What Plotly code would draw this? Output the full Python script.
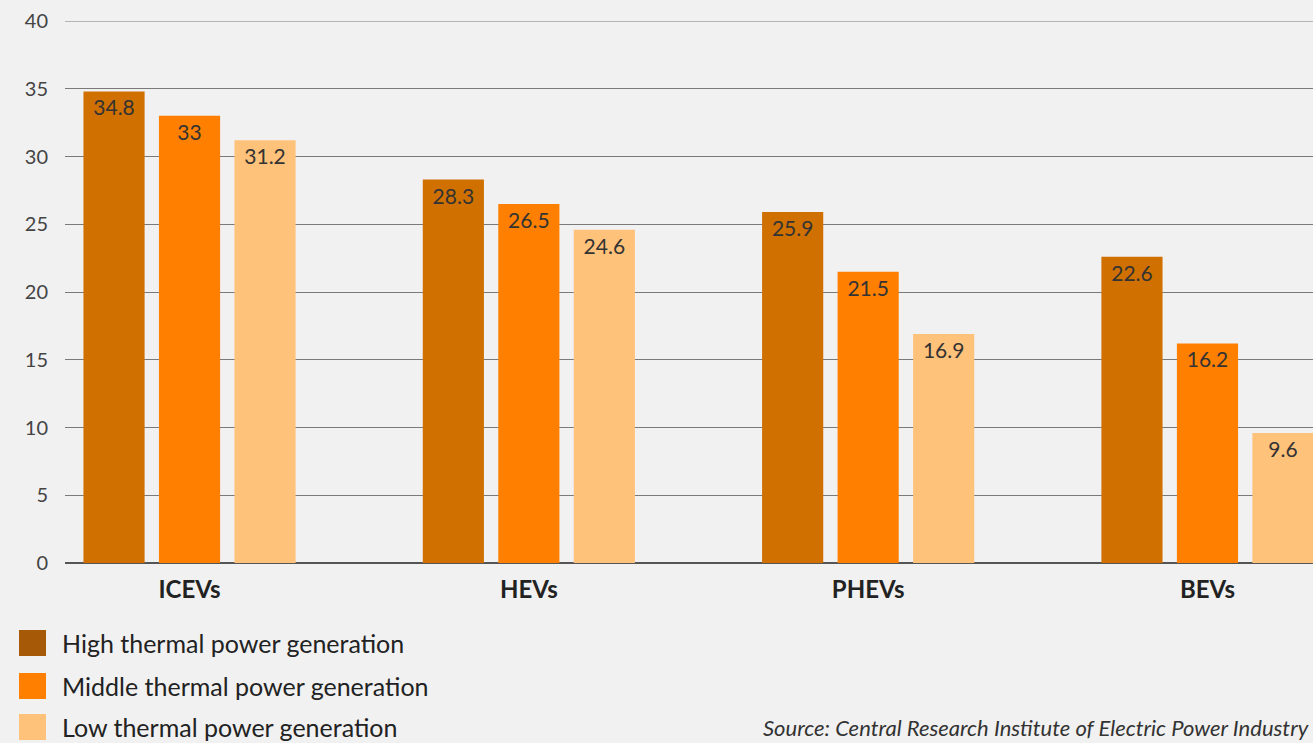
import plotly.graph_objects as go

categories = ["ICEVs", "HEVs", "PHEVs", "BEVs"]
series_names = ["High thermal power generation", "Middle thermal power generation", "Low thermal power generation"]
high = [34.8, 28.3, 25.9, 22.6]
middle = [33, 26.5, 21.5, 16.2]
low = [31.2, 24.6, 16.9, 9.6]
y_ticks = [0, 5, 10, 15, 20, 25, 30, 35, 40]
source_text = "Source: Central Research Institute of Electric Power Industry"

bar_colors = ["#d07000", "#ff8000", "#ffc27a"]
legend_colors = ["#a65a08", "#ff8000", "#ffc27a"]
FONT = "Lato, 'Noto Sans', sans-serif"

W, H = 1313, 743
L, R, T, B = 65, 0, 21, 180
PW, PH = W - L - R, H - T - B


def px_x(x):
    return (x - L) / PW


def px_y(y):
    return (H - B - y) / PH


fig = go.Figure()
for name, vals, col in zip(series_names, [high, middle, low], bar_colors):
    fig.add_trace(go.Bar(
        x=categories, y=vals, name=name, marker=dict(color=col, line=dict(width=0)),
        text=[f"{v:g}" for v in vals], textposition="inside", insidetextanchor="end",
        textangle=0, constraintext="none",
        textfont=dict(size=21, color="#333333", family=FONT),
        showlegend=False, hoverinfo="skip",
    ))

# top gridline at 40
fig.add_shape(type="line", xref="paper", yref="y", x0=0, x1=1, y0=40, y1=40,
              line=dict(color="#7a7a7a", width=1), layer="below")

# manual legend
leg_y = [643, 686, 727]
for name, col, yc in zip(series_names, legend_colors, leg_y):
    fig.add_shape(type="rect", xref="paper", yref="paper",
                  x0=px_x(19), x1=px_x(46),
                  y0=px_y(yc + 13), y1=px_y(yc - 13),
                  fillcolor=col, line=dict(width=0))
    fig.add_annotation(xref="paper", yref="paper", x=px_x(60),
                       y=px_y(yc), text=name, showarrow=False,
                       xanchor="left", yanchor="middle",
                       font=dict(size=25, color="#222222", family=FONT))

fig.add_annotation(xref="paper", yref="paper", x=px_x(1311), y=px_y(727),
                   text=f"<i>{source_text}</i>", showarrow=False,
                   xanchor="right", yanchor="middle",
                   font=dict(size=22, color="#333333", family=FONT))

fig.update_layout(
    width=W, height=H,
    margin=dict(l=L, r=R, t=T, b=B),
    paper_bgcolor="#f1f1f1", plot_bgcolor="#f1f1f1",
    barmode="group", bargap=0.3325, bargroupgap=0.19,
    font=dict(family=FONT, color="#444444"),
    xaxis=dict(range=[-0.367, 3.311], showgrid=False, showline=False, ticks="",
               ticklabelstandoff=10,
               tickfont=dict(size=24, color="#222222", family=FONT, weight="bold")),
    yaxis=dict(range=[0, 40], tickvals=y_ticks, showgrid=True, gridcolor="#7a7a7a", gridwidth=1,
               zeroline=True, zerolinecolor="#555555", zerolinewidth=1.5,
               tickfont=dict(size=20, color="#444444"), ticklabelstandoff=16),
)

fig.write_html("out.html", config={"displayModeBar": False},
               post_script="document.body.style.margin='0px';")
